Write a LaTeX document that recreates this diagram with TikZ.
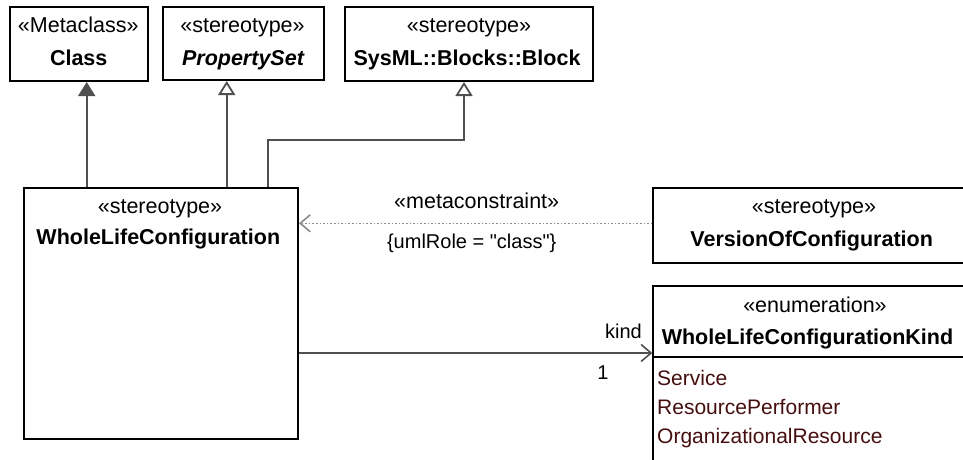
\documentclass[tikz,border=0pt]{standalone}
\usepackage{fontspec}
\setmainfont{Liberation Sans}
\setmonofont{Liberation Sans}
\usetikzlibrary{arrows.meta}
\definecolor{conn}{RGB}{80,80,80}
\definecolor{dotc}{RGB}{140,140,140}
\definecolor{lit}{RGB}{70,15,15}
\newcommand{\sq}{{\ttfamily\char34}}
\tikzset{
  umlbox/.style={draw=black, line width=2pt, fill=white, anchor=north west, inner sep=0pt},
  txt/.style={anchor=base, inner sep=0pt, font=\fontsize{21.5}{25}\selectfont},
  btxt/.style={anchor=base, inner sep=0pt, font=\fontsize{21.5}{25}\selectfont\bfseries},
  lbl/.style={anchor=base, inner sep=0pt, font=\fontsize{20}{24}\selectfont},
  littxt/.style={anchor=base west, inner sep=0pt, text=lit, font=\fontsize{21}{25}\selectfont},
  gen/.style={draw=conn, line width=1.8pt, -{Triangle[open, length=14pt, width=17pt, line width=1.8pt]}},
  fgen/.style={draw=conn, line width=1.8pt, -{Triangle[length=14pt, width=17pt]}, fill=conn},
  assoc/.style={draw=conn, line width=1.8pt, -{Straight Barb[length=10pt, width=17pt, line width=1.6pt]}},
  dep/.style={draw=dotc, line width=1.6pt, dotted, -{Straight Barb[length=10pt, width=17pt, line width=1.6pt, sep=0pt]}}
}
\begin{document}
\begin{tikzpicture}[x=1pt,y=-1pt]
\useasboundingbox (0,0) rectangle (963,459);
\clip (0,0) rectangle (963,459);
\fill[white] (0,0) rectangle (963,459);
% boxes
\node[umlbox, minimum width=138pt, minimum height=74pt] (class) at (8.7,6) {};
\node[umlbox, minimum width=160.4pt, minimum height=73pt] (pset) at (162.3,6) {};
\node[umlbox, minimum width=248.3pt, minimum height=74pt] (block) at (344,6) {};
\node[umlbox, minimum width=274pt, minimum height=251pt] (wlc) at (23,187.3) {};
\node[umlbox, minimum width=330pt, minimum height=74.4pt] (ver) at (652.3,187.3) {};
\node[umlbox, minimum width=330pt, minimum height=200pt] (enum) at (652.3,285) {};
\coordinate (divl) at (652.3,357.3);
\draw[line width=2pt] (divl) -- (divl -| enum.east);
% texts
\node[txt] (t1) at (78.3,32.3) {«Metaclass»};
\node[btxt] (t2) at (78.7,65.7) {Class};
\node[txt] (t3) at (242.5,32.3) {«stereotype»};
\node[btxt] (t4) at (243,65.7) {\itshape PropertySet};
\node[txt] (t5) at (469,32.3) {«stereotype»};
\node[btxt] (t6) at (467,65.7) {SysML::Blocks::Block};
\node[txt] (t7) at (160,213.3) {«stereotype»};
\node[btxt] (t8) at (158.3,244) {WholeLifeConfiguration};
\node[txt] (t9) at (814,213.3) {«stereotype»};
\node[btxt] (t10) at (811.7,246) {VersionOfConfiguration};
\node[txt] (t11) at (815,312.3) {«enumeration»};
\node[btxt] (t12) at (807.5,344) {WholeLifeConfigurationKind};
\node[littxt] (l1) at (657,385) {Service};
\node[littxt] (l2) at (657,414) {ResourcePerformer};
\node[littxt] (l3) at (657,443) {OrganizationalResource};
% connectors
\draw[fgen] (86.7,0 |- wlc.north) -- (86.7,0 |- class.south);
\draw[gen] (226.7,0 |- wlc.north) -- (226.7,0 |- pset.south);
\coordinate (bend1) at (268.3,140);
\coordinate (bend2) at (464,140);
\draw[gen] (bend1 |- wlc.north) -- (bend1) -- (bend2) -- (bend2 |- block.south);
\coordinate (depy) at (0,223.3);
\draw[dep] (depy -| ver.west) -- (depy -| wlc.east);
\node[txt] (mc) at (476.7,208.3) {«metaconstraint»};
\node[lbl] (ur) at (471.7,248.3) {\{umlRole = \sq class\sq\}};
\coordinate (assy) at (0,353);
\draw[assoc] (assy -| wlc.east) -- (assy -| enum.west);
\node[lbl, anchor=base east] (kind) at (642,338.3) {kind};
\node[lbl] (one) at (603,379.3) {1};
\end{tikzpicture}
\end{document}
